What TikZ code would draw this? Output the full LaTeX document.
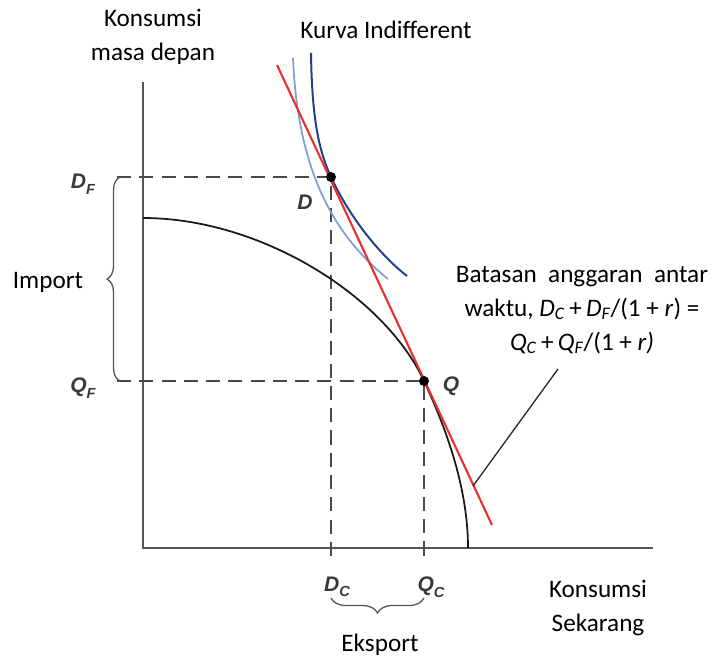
\documentclass[tikz,border=0pt]{standalone}
\usepackage{fontspec}
\setmainfont{Carlito}
\newfontfamily\lblfont{Liberation Sans}
\usetikzlibrary{decorations.pathreplacing}

\definecolor{axisgray}{HTML}{50555F}
\definecolor{dashgray}{HTML}{4A4A4A}
\definecolor{lblgray}{HTML}{3A3A3A}
\definecolor{budgetred}{HTML}{E8312F}
\definecolor{icdark}{HTML}{23408E}
\definecolor{iclight}{HTML}{7F9FDA}

\newcommand{\sublbl}[2]{#1\raisebox{-0.5ex}{\fontsize{12.5}{12.5}\selectfont #2}}

\begin{document}
\begin{tikzpicture}[x=0.03cm, y=-0.03cm,
    txt/.style={font=\fontsize{21.5}{29}\selectfont, align=center, inner sep=0pt},
    lbl/.style={font=\lblfont\bfseries\itshape\fontsize{18}{18}\selectfont, text=lblgray, inner sep=0pt},
    axisline/.style={axisgray, line width=2.3pt},
    guide/.style={dashgray, line width=1.6pt, dash pattern=on 12pt off 7pt},
    bracket/.style={axisgray, line width=1.1pt, decorate, decoration={brace, amplitude=#1}},
    dot/.style={circle, fill=black, inner sep=0pt, minimum size=0.3cm}]
    \useasboundingbox (0,0) rectangle (712,660);

    % Axes
    \coordinate (O) at (143,548);
    \coordinate (ytop) at (143,82);
    \coordinate (xend) at (653,548);
    \draw[axisline] (ytop) -- (O) -- (xend);

    % Points and guide lines
    \coordinate (d) at (331,177);
    \coordinate (q) at (424,381);
    \coordinate (dfleft) at (117,177);
    \coordinate (qfleft) at (117,381);
    \coordinate (dcdown) at (331,560);
    \coordinate (qcdown) at (424,560);
    \draw[guide] (dfleft) -- (d) -- (dcdown);
    \draw[guide] (qfleft) -- (q) -- (qcdown);

    % Braces
    \coordinate (impbot) at (120,381);
    \coordinate (imptop) at (120,177);
    \draw[bracket=0.39cm] (impbot) -- (imptop);
    \coordinate (ekright) at (424,598);
    \coordinate (ekleft) at (331,598);
    \draw[bracket=0.45cm] (ekright) -- (ekleft);

    % Production possibility frontier
    \coordinate (ppfstart) at (143,218);
    \coordinate (ppfend) at (468,548);
    \draw[line width=1.5pt, black!90] (ppfstart) .. controls (260,218) and (384,295) .. (q)
        .. controls (444,424) and (468,485) .. (ppfend);

    % Indifference curves
    \draw[line width=1.5pt, iclight] (293,58) .. controls (298,180) and (340,240) .. (388,279);
    \draw[line width=1.7pt, icdark] (311,53) .. controls (312,120) and (319,151) .. (d)
        .. controls (350,218) and (380,255) .. (407,276);

    % Budget line
    \coordinate (redtop) at (277,65);
    \coordinate (redbot) at (492,525);
    \draw[line width=1.8pt, budgetred] (redtop) -- (redbot);

    \node[dot] (D) at (d) {};
    \node[dot] (Q) at (q) {};

    % Labels on the axes
    \node[lbl] (DF) at (83,184) {\sublbl{D}{F}};
    \node[lbl] (QF) at (83,388) {\sublbl{Q}{F}};
    \node[lbl] (DC) at (337,587) {\sublbl{D}{C}};
    \node[lbl] (QC) at (431,587) {\sublbl{Q}{C}};
    \node[lbl] (Dlab) at (305,202) {D};
    \node[lbl] (Qlab) at (451,386) {Q};

    % Texts
    \node[txt] (ytitle) at (153,37) {Konsumsi\\masa\ depan};
    \node[txt] (ictitle) at (386,30) {Kurva Indifferent};
    \node[txt] (import) at (48,282) {Import};
    \node[txt] (eksport) at (380,645) {Eksport};
    \node[txt] (xtitle) at (598,608) {Konsumsi\\Sekarang};
    \node[txt] (budget) at (582,310) {Batasan\ \ anggaran\ \ antar\\
        waktu,\ \textit{D}\textsubscript{\textit{C}}\,+\,\textit{D}\textsubscript{\textit{F}}/(1 + \textit{r}) =\\
        \textit{Q}\textsubscript{\textit{C}}\,+\,\textit{Q}\textsubscript{\textit{F}}/(1 + \textit{r)}};

    % Leader to the budget line
    \coordinate (leadtop) at (558,369);
    \coordinate (onred) at (473,486);
    \draw[line width=1.1pt, black!85] (leadtop) -- (onred);
\end{tikzpicture}
\end{document}
